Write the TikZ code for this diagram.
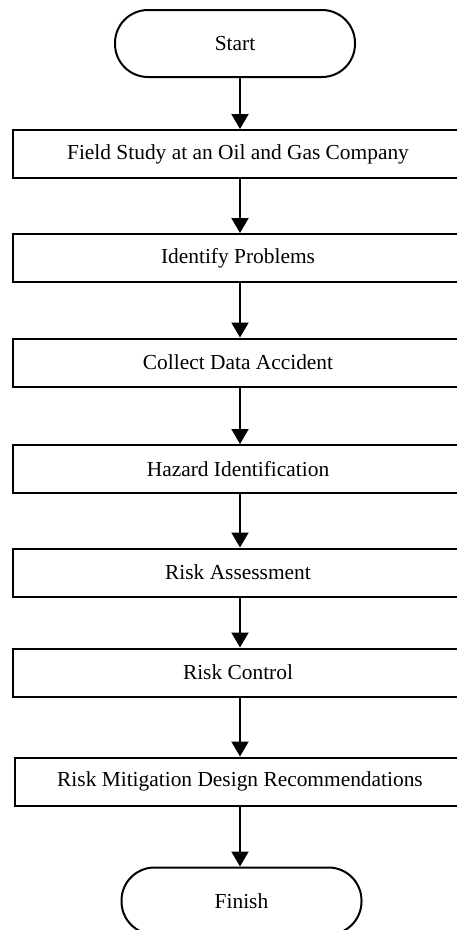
\documentclass[tikz,border=0pt]{standalone}
\usepackage{fontspec}
\setmainfont{Liberation Serif}
\usetikzlibrary{arrows.meta}
\begin{document}
\begin{tikzpicture}[x=1pt,y=-1pt,
  term/.style={draw,line width=2pt,minimum width=240pt,minimum height=67pt,rounded corners=33pt,inner sep=0pt,font=\fontsize{21.4}{24}\selectfont},
  stepbox/.style={draw,line width=2pt,minimum width=450pt,minimum height=48pt,inner sep=0pt,font=\fontsize{21.4}{24}\selectfont},
  arr/.style={line width=2pt,-{Triangle[width=17pt,length=15pt]}}]
\useasboundingbox (0,0) rectangle (457,930);
\begin{scope}
\clip (0,0) rectangle (457,930);
\node[term] (start) at (235,43.5) {Start};
\node[stepbox] (b1) at (238,154) {Field Study at an Oil and Gas Company};
\node[stepbox] (b2) at (238,258) {Identify Problems};
\node[stepbox] (b3) at (238,362.5) {Collect Data Accident};
\node[stepbox] (b4) at (238,469) {Hazard Identification};
\node[stepbox] (b5) at (238,572.5) {Risk Assessment};
\node[stepbox] (b6) at (238,672.5) {Risk Control};
\node[stepbox] (b7) at (240,781.5) {Risk Mitigation Design Recommendations};
\node[term] (finish) at (241.5,901) {Finish};
\coordinate (ax) at (240,0);
\draw[arr] (start.south -| ax) -- (b1.north -| ax);
\draw[arr] (b1.south -| ax) -- (b2.north -| ax);
\draw[arr] (b2.south -| ax) -- (b3.north -| ax);
\draw[arr] (b3.south -| ax) -- (b4.north -| ax);
\draw[arr] (b4.south -| ax) -- (b5.north -| ax);
\draw[arr] (b5.south -| ax) -- (b6.north -| ax);
\draw[arr] (b6.south -| ax) -- (b7.north -| ax);
\draw[arr] (b7.south -| ax) -- (finish.north -| ax);
\end{scope}
\end{tikzpicture}
\end{document}
